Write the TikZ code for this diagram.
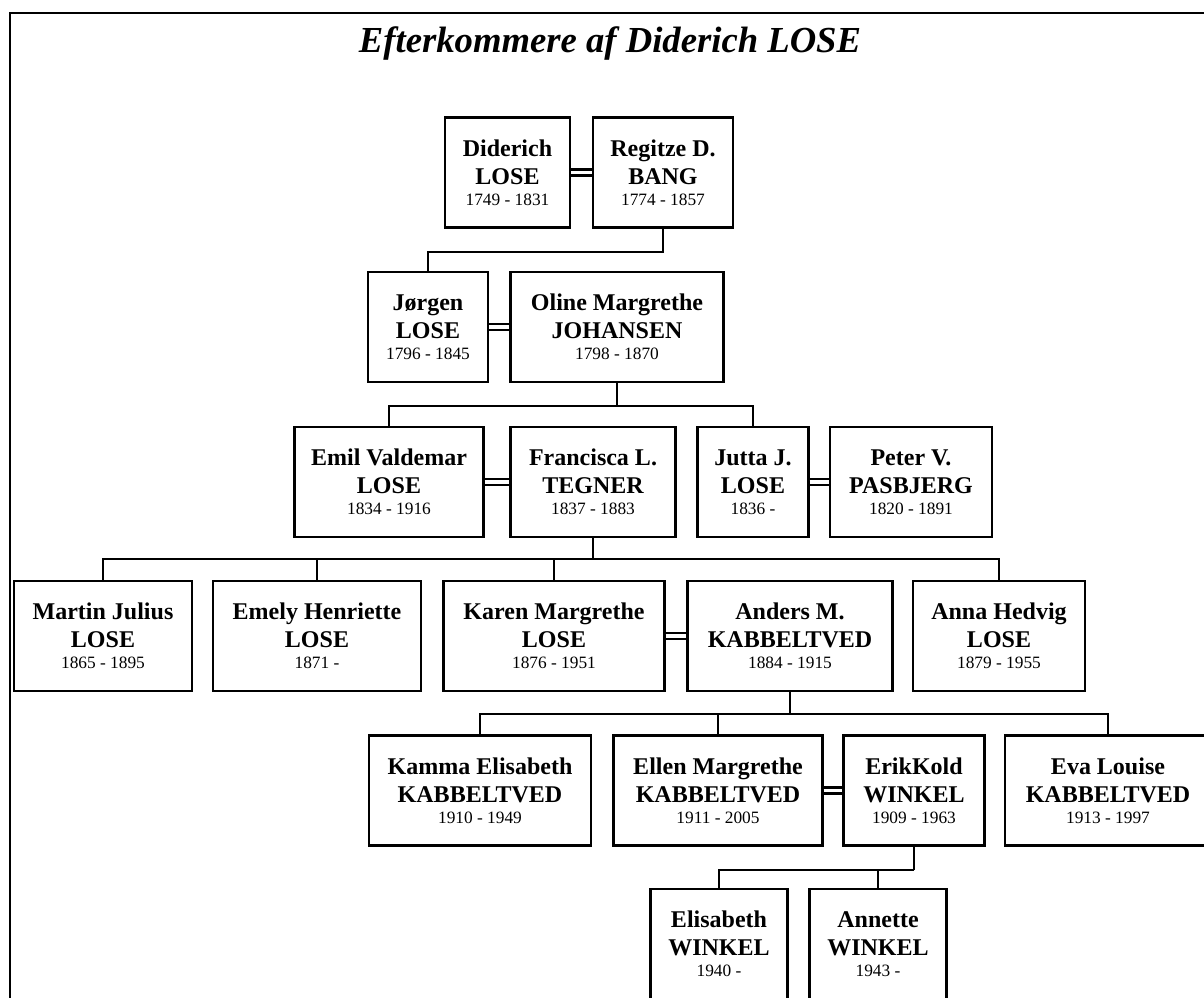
\documentclass[tikz,border=0pt]{standalone}
\usepackage{fontspec}
\setmainfont{Liberation Serif}
\newcommand{\yrs}[1]{{\mdseries\fontsize{13}{15}\selectfont #1}}
\tikzset{
  person/.style={draw, rectangle, line width=1.6pt, inner sep=0pt, align=center,
    minimum width=#1*0.75pt, minimum height=82.5pt,
    font=\bfseries\fontsize{18}{21}\selectfont},
  wed/.style={double, double distance=2.6pt, line width=1.8pt},
  kin/.style={line width=1.5pt},
}

\begin{document}
\begin{tikzpicture}[x=0.75pt,y=0.75pt,yscale=-1,xscale=1]
\useasboundingbox (0,0) rectangle (1204,997);
\clip (0,0) rectangle (1204,997);

%Frame
\draw [line width=1.5pt] (10,1020) -- (10,13) -- (1230,13) ;

% Title
\node (title) [anchor=base, font=\bfseries\itshape\fontsize{27.5}{33}\selectfont] at (610,52) {Efterkommere af Diderich LOSE};

%Row 1
\node [person=125] (diderich) at (507.5,172.5) {Diderich\\LOSE\\[-5pt]\yrs{1749 - 1831}};
\node [person=140] (regitze) at (663,172.5) {Regitze D.\\BANG\\[-5pt]\yrs{1774 - 1857}};

%Row 2
\node [person=120] (jorgen) at (428,327) {Jørgen\\LOSE\\[-5pt]\yrs{1796 - 1845}};
\node [person=213] (oline) at (617,327) {Oline Margrethe\\JOHANSEN\\[-5pt]\yrs{1798 - 1870}};

%Row 3
\node [person=189] (emil) at (389,482) {Emil Valdemar\\LOSE\\[-5pt]\yrs{1834 - 1916}};
\node [person=165] (francisca) at (593,482) {Francisca L.\\TEGNER\\[-5pt]\yrs{1837 - 1883}};
\node [person=111] (jutta) at (753,482) {Jutta J.\\LOSE\\[-5pt]\yrs{1836 -}};
\node [person=162] (peter) at (911,482) {Peter V.\\PASBJERG\\[-5pt]\yrs{1820 - 1891}};

%Row 4
\node [person=178] (martin) at (103,636) {Martin Julius\\LOSE\\[-5pt]\yrs{1865 - 1895}};
\node [person=208] (emely) at (317,636) {Emely Henriette\\LOSE\\[-5pt]\yrs{1871 -}};
\node [person=221] (karen) at (554,636) {Karen Margrethe\\LOSE\\[-5pt]\yrs{1876 - 1951}};
\node [person=205] (anders) at (790,636) {Anders M.\\KABBELTVED\\[-5pt]\yrs{1884 - 1915}};
\node [person=172] (anna) at (999,636) {Anna Hedvig\\LOSE\\[-5pt]\yrs{1879 - 1955}};

%Row 5
\node [person=222] (kamma) at (480,790.5) {Kamma Elisabeth\\KABBELTVED\\[-5pt]\yrs{1910 - 1949}};
\node [person=209] (ellen) at (718,790.5) {Ellen Margrethe\\KABBELTVED\\[-5pt]\yrs{1911 - 2005}};
\node [person=141] (erik) at (914,790.5) {ErikKold\\WINKEL\\[-5pt]\yrs{1909 - 1963}};
\node [person=206] (eva) at (1108,790.5) {Eva Louise\\KABBELTVED\\[-5pt]\yrs{1913 - 1997}};

%Row 6
\node [person=137] (elisabeth) at (719,944) {Elisabeth\\WINKEL\\[-5pt]\yrs{1940 -}};
\node [person=137] (annette) at (878,944) {Annette\\WINKEL\\[-5pt]\yrs{1943 -}};

%Marriages
\draw [wed] (diderich.east) -- (regitze.west) ;
\draw [wed] (jorgen.east) -- (oline.west) ;
\draw [wed] (emil.east) -- (francisca.west) ;
\draw [wed] (jutta.east) -- (peter.west) ;
\draw [wed] (karen.east) -- (anders.west) ;
\draw [wed] (ellen.east) -- (erik.west) ;

%Descent lines
\draw [kin] (regitze.south) -- ++(0,23) -| (jorgen.north) ;
\draw [kin] (oline.south) -- ++(0,23) coordinate (k2) ;
\draw [kin] (k2) -| (emil.north) ;
\draw [kin] (k2) -| (jutta.north) ;
\draw [kin] (francisca.south) -- ++(0,21) coordinate (k3) ;
\foreach \c in {martin,emely,karen,anna} \draw [kin] (k3) -| (\c.north) ;
\draw [kin] (anders.south) -- ++(0,22) coordinate (k4) ;
\foreach \c in {kamma,ellen,eva} \draw [kin] (k4) -| (\c.north) ;
\draw [kin] (erik.south) -- ++(0,23) coordinate (k5) ;
\foreach \c in {elisabeth,annette} \draw [kin] (k5) -| (\c.north) ;

\end{tikzpicture}
\end{document}
